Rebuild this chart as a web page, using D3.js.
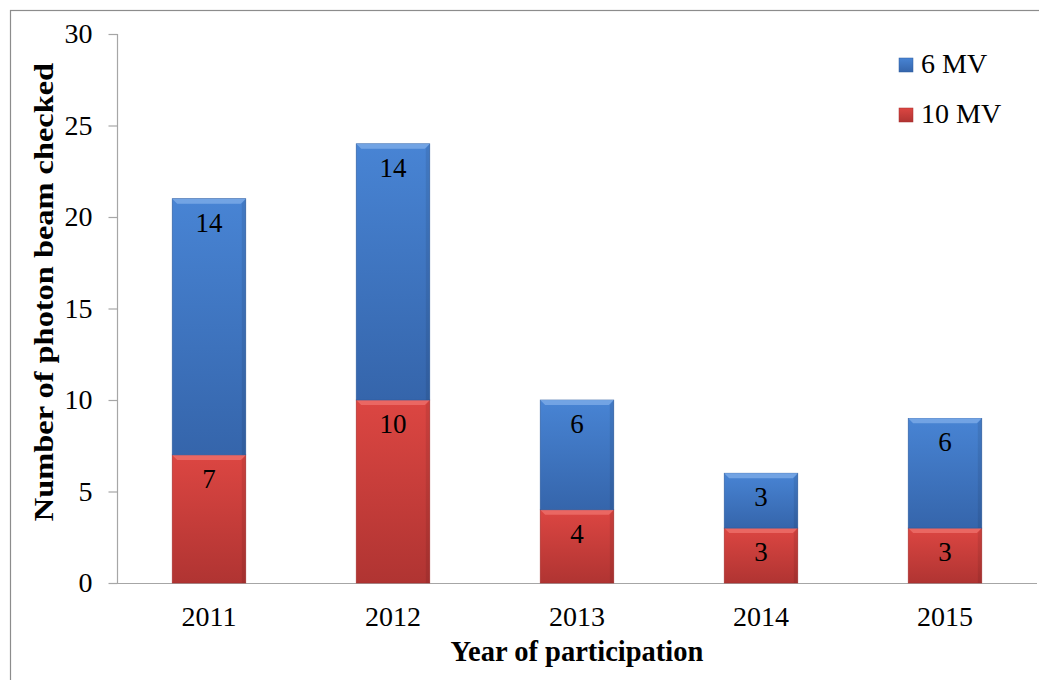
<!DOCTYPE html>
<html>
<head>
<meta charset="utf-8">
<script src="https://cdn.jsdelivr.net/npm/d3@7/dist/d3.min.js"></script>
<style>
  html, body { margin: 0; padding: 0; background: #fff; }
  svg { display: block; }
</style>
</head>
<body>
<svg id="chart" width="1039" height="680"></svg>
<script>
// Photon beams checked per year of participation
const years = ["2011", "2012", "2013", "2014", "2015"];
const mv10 = [7, 10, 4, 3, 3];
const mv6 = [14, 14, 6, 3, 6];
const seriesNames = ["6 MV", "10 MV"];
const yTicks = [0, 5, 10, 15, 20, 25, 30];

const FONT = "'Liberation Serif', 'Times New Roman', Times, serif";

const svg = d3.select("#chart");
const W = 1039, H = 680;
const margin = { left: 117, right: 2, top: 34, bottom: 97 };

// Outer frame
svg.append("rect")
  .attr("x", 10.5).attr("y", 10.5)
  .attr("width", W + 10).attr("height", H + 10)
  .attr("fill", "none").attr("stroke", "#8c8c8c").attr("stroke-width", 1.2);

const x = d3.scaleBand().domain(years)
  .range([margin.left, W - margin.right])
  .paddingInner(0.6).paddingOuter(0.3);
const y = d3.scaleLinear().domain([0, 30]).range([H - margin.bottom, margin.top]);

// Gradients for the bevelled bars
const defs = svg.append("defs");
function makeGrad(id, c1, c2) {
  const g = defs.append("linearGradient").attr("id", id)
    .attr("x1", 0).attr("y1", 0).attr("x2", 0).attr("y2", 1);
  g.append("stop").attr("offset", "0%").attr("stop-color", c1);
  g.append("stop").attr("offset", "100%").attr("stop-color", c2);
}
makeGrad("gBlue", "#4884d4", "#3565ab");
makeGrad("gRed", "#dc4642", "#b03432");

const stackData = years.map((yr, i) => ({ year: yr, "10 MV": mv10[i], "6 MV": mv6[i] }));
const stacked = d3.stack().keys(["10 MV", "6 MV"])(stackData);
const fills = { "10 MV": "url(#gRed)", "6 MV": "url(#gBlue)" };
const tops = { "10 MV": "#ec6d68", "6 MV": "#7aa9e6" };
const edges = { "10 MV": "#a62e2c", "6 MV": "#2f5c9e" };

// Axes
svg.append("line")
  .attr("x1", margin.left).attr("x2", W - margin.right)
  .attr("y1", y(0) + 0.5).attr("y2", y(0) + 0.5)
  .attr("stroke", "#a6a6a6").attr("stroke-width", 1.2);
svg.append("line")
  .attr("x1", margin.left + 0.5).attr("x2", margin.left + 0.5)
  .attr("y1", y(30)).attr("y2", y(0))
  .attr("stroke", "#a6a6a6").attr("stroke-width", 1.2);

const yAxis = d3.axisLeft(y).tickValues(yTicks).tickSize(9).tickPadding(16);
const gy = svg.append("g").attr("transform", `translate(${margin.left + 0.5},0)`).call(yAxis);
gy.select(".domain").remove();
gy.selectAll(".tick line").attr("stroke", "#a6a6a6").attr("stroke-width", 1.2);
gy.selectAll(".tick text").style("font-size", "28px").style("font-family", FONT).attr("fill", "#000");

const xAxis = d3.axisBottom(x).tickSize(0).tickPadding(23);
const gx = svg.append("g").attr("transform", `translate(0,${y(0)})`).call(xAxis);
gx.select(".domain").remove();
gx.selectAll(".tick text").style("font-size", "28px").style("font-family", FONT).attr("fill", "#000");

// Bars
stacked.forEach(layer => {
  const key = layer.key;
  const g = svg.append("g");
  layer.forEach(d => {
    const x0 = x(d.data.year), bw = x.bandwidth();
    const yt = y(d[1]), yb = y(d[0]);
    g.append("rect").attr("x", x0).attr("y", yt).attr("width", bw).attr("height", yb - yt)
      .attr("fill", fills[key]).attr("stroke", edges[key]).attr("stroke-width", 0.6);
    // top bevel
    g.append("polygon")
      .attr("points", `${x0},${yt} ${x0 + bw},${yt} ${x0 + bw - 5},${yt + 5} ${x0 + 5},${yt + 5}`)
      .attr("fill", tops[key]).attr("opacity", 0.85);
    // side shading
    g.append("polygon")
      .attr("points", `${x0 + bw},${yt} ${x0 + bw},${yb} ${x0 + bw - 4},${yb} ${x0 + bw - 4},${yt + 5}`)
      .attr("fill", "#000").attr("opacity", 0.08);
    g.append("text")
      .attr("x", x0 + bw / 2).attr("y", yt + 33)
      .attr("text-anchor", "middle")
      .style("font-size", "27px").style("font-family", FONT)
      .text(d[1] - d[0]);
  });
});

// Axis titles (the vertical one is drawn slightly stretched along its length)
svg.append("text")
  .attr("transform", `translate(53,292) rotate(-90) scale(1.2,1)`)
  .attr("text-anchor", "middle")
  .style("font-size", "27px").style("font-weight", "bold").style("font-family", FONT)
  .text("Number of photon beam checked");
svg.append("text")
  .attr("x", 577).attr("y", 661)
  .attr("text-anchor", "middle")
  .style("font-size", "28.5px").style("font-weight", "bold").style("font-family", FONT)
  .text("Year of participation");

// Legend
const legColors = { "6 MV": "url(#gBlue)", "10 MV": "url(#gRed)" };
seriesNames.forEach((name, i) => {
  const ly = 58 + i * 50;
  svg.append("rect").attr("x", 899).attr("y", ly).attr("width", 14).attr("height", 14)
    .attr("fill", legColors[name]).attr("stroke", name === "6 MV" ? "#2f5c9e" : "#a62e2c").attr("stroke-width", 0.5);
  svg.append("text").attr("x", 921).attr("y", ly + 15)
    .style("font-size", "28px").style("font-family", FONT).text(name);
});
</script>
</body>
</html>
